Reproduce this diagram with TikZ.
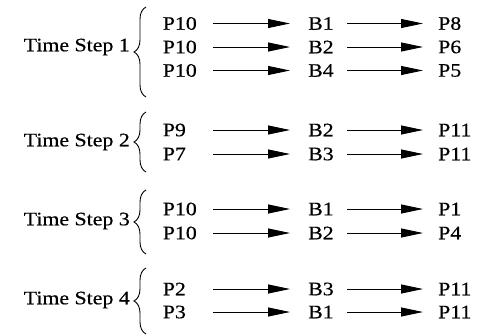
\documentclass[tikz,border=0pt]{standalone}
\usepackage{fontspec}
\setmainfont{Liberation Serif}[FakeStretch=1.15,FakeBold=0.5]
\usetikzlibrary{decorations.pathreplacing,arrows.meta,positioning}

\begin{document}
\begin{tikzpicture}[x=1pt,y=-1pt,font=\fontsize{19}{21}\selectfont,
    src/.style={anchor=east,text width=50pt,align=left,inner xsep=0pt},
    bus/.style={anchor=west,text width=39pt,align=left,inner xsep=0pt},
    dst/.style={anchor=west,inner xsep=15pt},
    link/.style={-{Triangle[length=22pt,width=9pt]},line width=0.9pt},
    grp/.style={decorate,decoration={brace,amplitude=12pt},line width=0.9pt}]
\useasboundingbox (0,0) rectangle (477,335);
% one row per transfer: source -> bus -> destination
\foreach \s/\b/\d/\y [count=\n] in
    {P10/B1/P8/23.5, P10/B2/P6/47, P10/B4/P5/70.5,
     P9/B2/P11/130, P7/B3/P11/154,
     P10/B1/P1/209, P10/B2/P4/233,
     P2/B3/P11/289, P3/B1/P11/312}
{
    \node[src] (S\n) at (213,\y) {\s};
    \node[bus] (B\n) at (308,\y) {\b};
    \node[dst] (D\n) at (423,\y) {\d};
    \draw[link,shorten >=18pt] (S\n) -- (B\n);
    \draw[link] (B\n) -- (D\n);
}
% time steps
\foreach \t/\top/\bot/\mid in {1/7/97/47, 2/112/172/142, 3/190/254/221, 4/268/334/300}
{
    \node[anchor=east,inner xsep=0pt] (T\t) at (130,\mid) {Time Step \t};
    \draw[grp] (146,\bot) -- (146,\top);
}
\end{tikzpicture}
\end{document}
